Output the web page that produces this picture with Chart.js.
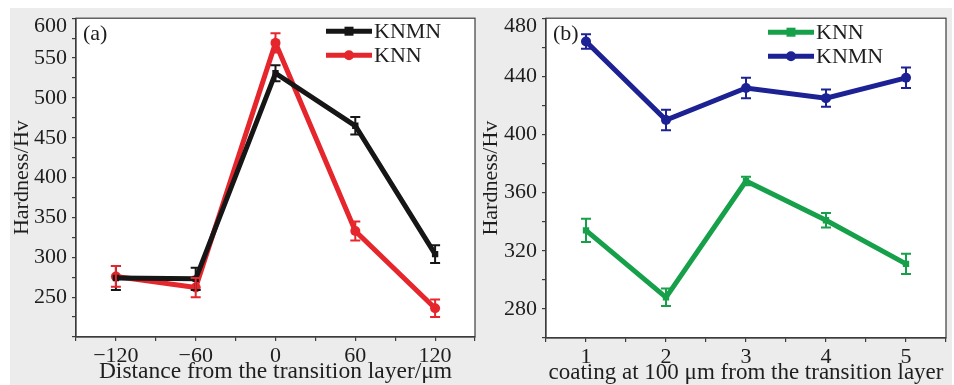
<!DOCTYPE html>
<html>
<head>
<meta charset="utf-8">
<script src="https://cdn.jsdelivr.net/npm/chart.js@4.4.1/dist/chart.umd.min.js"></script>
<style>
  html, body { margin: 0; padding: 0; background: #ffffff; }
  #page { position: relative; width: 954px; height: 385px; overflow: hidden; }
  #panelBg { position: absolute; left: 10px; top: 8px; width: 942px; height: 377px; background: #ececec; }
  canvas { position: absolute; top: 0; }
  #chartA { left: 0; }
  #chartB { left: 480px; }
</style>
</head>
<body>
<div id="page">
  <div id="panelBg"></div>
  <canvas id="chartA" width="480" height="385"></canvas>
  <canvas id="chartB" width="474" height="385"></canvas>
</div>
<script>
// Panel (a): hardness across the transition layer
const distanceA = [-120, -60, 0, 60, 120];
const knmnA = [274, 273, 531, 465, 304];
const knmnAErr = [15, 14, 10, 11, 11];
const knnA = [276, 262, 569, 333, 236];
const knnAErr = [13, 12, 12, 12, 11];

// Panel (b): hardness of the coating at 100 µm from the transition layer
const positionB = [1, 2, 3, 4, 5];
const knnB = [334, 288, 368, 341, 311];
const knnBErr = [8, 6, 3, 5, 7];
const knmnB = [464, 410, 432, 425, 439];
const knmnBErr = [5, 7, 7, 6, 7];

const FONT = "'Liberation Serif', 'Times New Roman', serif";
const INK = '#1e1e1e';
const AXIS = '#3c3c3c';

function pts(xs, ys) { return xs.map((x, i) => ({ x: x, y: ys[i] })); }

// white plot area, frame, error bars, legend and panel tag
const decorPlugin = {
  id: 'decor',
  beforeDraw(chart) {
    const { ctx, chartArea: a } = chart;
    ctx.save();
    ctx.fillStyle = '#ffffff';
    ctx.fillRect(a.left, a.top, a.right - a.left, a.bottom - a.top);
    ctx.restore();
  },
  afterDatasetsDraw(chart) {
    const { ctx } = chart;
    const xs = chart.scales.x, ys = chart.scales.y;
    chart.data.datasets.forEach(ds => {
      ctx.save();
      ctx.strokeStyle = ds.borderColor;
      ctx.lineWidth = 2;
      ds.data.forEach((p, i) => {
        const e = ds.errors[i];
        const px = xs.getPixelForValue(p.x);
        const top = ys.getPixelForValue(p.y + e);
        const bot = ys.getPixelForValue(p.y - e);
        ctx.beginPath();
        ctx.moveTo(px, top); ctx.lineTo(px, bot);
        ctx.moveTo(px - 5, top); ctx.lineTo(px + 5, top);
        ctx.moveTo(px - 5, bot); ctx.lineTo(px + 5, bot);
        ctx.stroke();
      });
      ctx.restore();
    });
  },
  afterDraw(chart) {
    const { ctx, chartArea: a } = chart;
    const o = chart.options.plugins.decor;
    ctx.save();
    ctx.strokeStyle = AXIS;
    ctx.lineWidth = 1.2;
    ctx.strokeRect(a.left, a.top, a.right - a.left, a.bottom - a.top);

    // top tick label sits just inside the frame
    const ys = chart.scales.y;
    ctx.fillStyle = INK;
    ctx.font = '22px ' + FONT;
    ctx.textAlign = 'right';
    ctx.textBaseline = 'middle';
    ctx.fillText(String(ys.max), a.left - 9, ys.getPixelForValue(ys.max) + 8);

    // panel tag
    ctx.textAlign = 'left';
    ctx.fillText(o.tag, a.left + 7, a.top + 16);

    // legend
    chart.data.datasets.forEach((ds, i) => {
      const y = a.top + o.legendTop + i * 24;
      const x0 = a.right - o.legendRight;
      const x1 = x0 + 46;
      ctx.strokeStyle = ds.borderColor;
      ctx.lineWidth = 5;
      ctx.beginPath(); ctx.moveTo(x0, y); ctx.lineTo(x1, y); ctx.stroke();
      ctx.fillStyle = ds.borderColor;
      const mx = (x0 + x1) / 2;
      if (ds.pointStyle === 'rect') {
        ctx.fillRect(mx - 4.5, y - 4.5, 9, 9);
      } else {
        ctx.beginPath(); ctx.arc(mx, y, 5, 0, Math.PI * 2); ctx.fill();
      }
      ctx.fillStyle = INK;
      ctx.font = '22px ' + FONT;
      ctx.textAlign = 'left';
      ctx.textBaseline = 'middle';
      ctx.fillText(ds.label, x1 + 2, y + 1);
    });
    ctx.restore();
  }
};

function series(label, xs, ys, errs, color, style) {
  return {
    label: label,
    data: pts(xs, ys),
    errors: errs,
    borderColor: color,
    backgroundColor: color,
    borderWidth: 5,
    pointStyle: style,
    pointRadius: style === 'rect' ? 4.5 : 5,
    pointBorderWidth: 0,
    tension: 0
  };
}

function axisCommon() {
  return {
    type: 'linear',
    grid: { display: true, drawOnChartArea: false, drawTicks: true, tickLength: 4, color: AXIS, lineWidth: 1.2 },
    border: { display: true, color: AXIS, width: 1.2 },
    ticks: { color: INK, font: { family: FONT, size: 22 }, autoSkip: false, maxRotation: 0 }
  };
}

function makeChart(id, cfg) {
  const x = axisCommon();
  x.min = cfg.xMin; x.max = cfg.xMax;
  x.ticks.stepSize = cfg.xStep;
  x.ticks.padding = 2;
  x.ticks.callback = cfg.xLabel;
  x.title = { display: true, text: cfg.xTitle, color: INK, font: { family: FONT, size: cfg.xTitleSize, lineHeight: 1 }, padding: { top: 0, bottom: 1 } };
  x.afterFit = s => { s.height = cfg.xHeight; };

  const y = axisCommon();
  y.min = cfg.yMin; y.max = cfg.yMax;
  y.ticks.stepSize = cfg.yStep;
  y.ticks.padding = 5;
  y.ticks.callback = cfg.yLabel;
  y.title = { display: true, text: 'Hardness/Hv', color: INK, font: { family: FONT, size: 22, lineHeight: 1 }, padding: { top: cfg.yTitlePad, bottom: 0 } };
  y.afterFit = s => { s.width = cfg.yWidth; };

  return new Chart(document.getElementById(id), {
    type: 'line',
    data: { datasets: cfg.datasets },
    options: {
      responsive: false,
      animation: false,
      devicePixelRatio: 1,
      layout: { padding: { top: cfg.padTop, right: cfg.padRight, left: 0, bottom: 0 } },
      scales: { x: x, y: y },
      plugins: {
        legend: { display: false },
        tooltip: { enabled: false },
        decor: cfg.decor
      }
    },
    plugins: [decorPlugin]
  });
}

makeChart('chartA', {
  datasets: [
    series('KNMN', distanceA, knmnA, knmnAErr, '#161616', 'rect'),
    series('KNN', distanceA, knnA, knnAErr, '#e5262c', 'circle')
  ],
  xMin: -150, xMax: 150, xStep: 30,
  xLabel: v => (v % 60 === 0 && Math.abs(v) < 150) ? String(v).replace('-', '\u2212') : '',
  xTitle: 'Distance from the transition layer/\u03bcm',
  xTitleSize: 23.5,
  yMin: 200, yMax: 600, yStep: 25,
  yLabel: v => (v % 50 === 0 && v !== 200 && v !== 600) ? String(v) : '',
  yTitlePad: 11, yWidth: 76, xHeight: 48,
  padTop: 16, padRight: 5,
  decor: { tag: '(a)', legendTop: 13, legendRight: 149 }
});

makeChart('chartB', {
  datasets: [
    series('KNN', positionB, knnB, knnBErr, '#16a04a', 'rect'),
    series('KNMN', positionB, knmnB, knmnBErr, '#1c2194', 'circle')
  ],
  xMin: 0.5, xMax: 5.5, xStep: 0.5,
  xLabel: v => Number.isInteger(v) ? String(v) : '',
  xTitle: 'coating at 100 \u03bcm from the transition layer',
  xTitleSize: 23,
  yMin: 260, yMax: 480, yStep: 20,
  yLabel: v => ((v - 280) % 40 === 0 && v !== 480) ? String(v) : '',
  yTitlePad: 0, yWidth: 66, xHeight: 47,
  padTop: 15, padRight: 8,
  decor: { tag: '(b)', legendTop: 14, legendRight: 178 }
});
</script>
</body>
</html>
